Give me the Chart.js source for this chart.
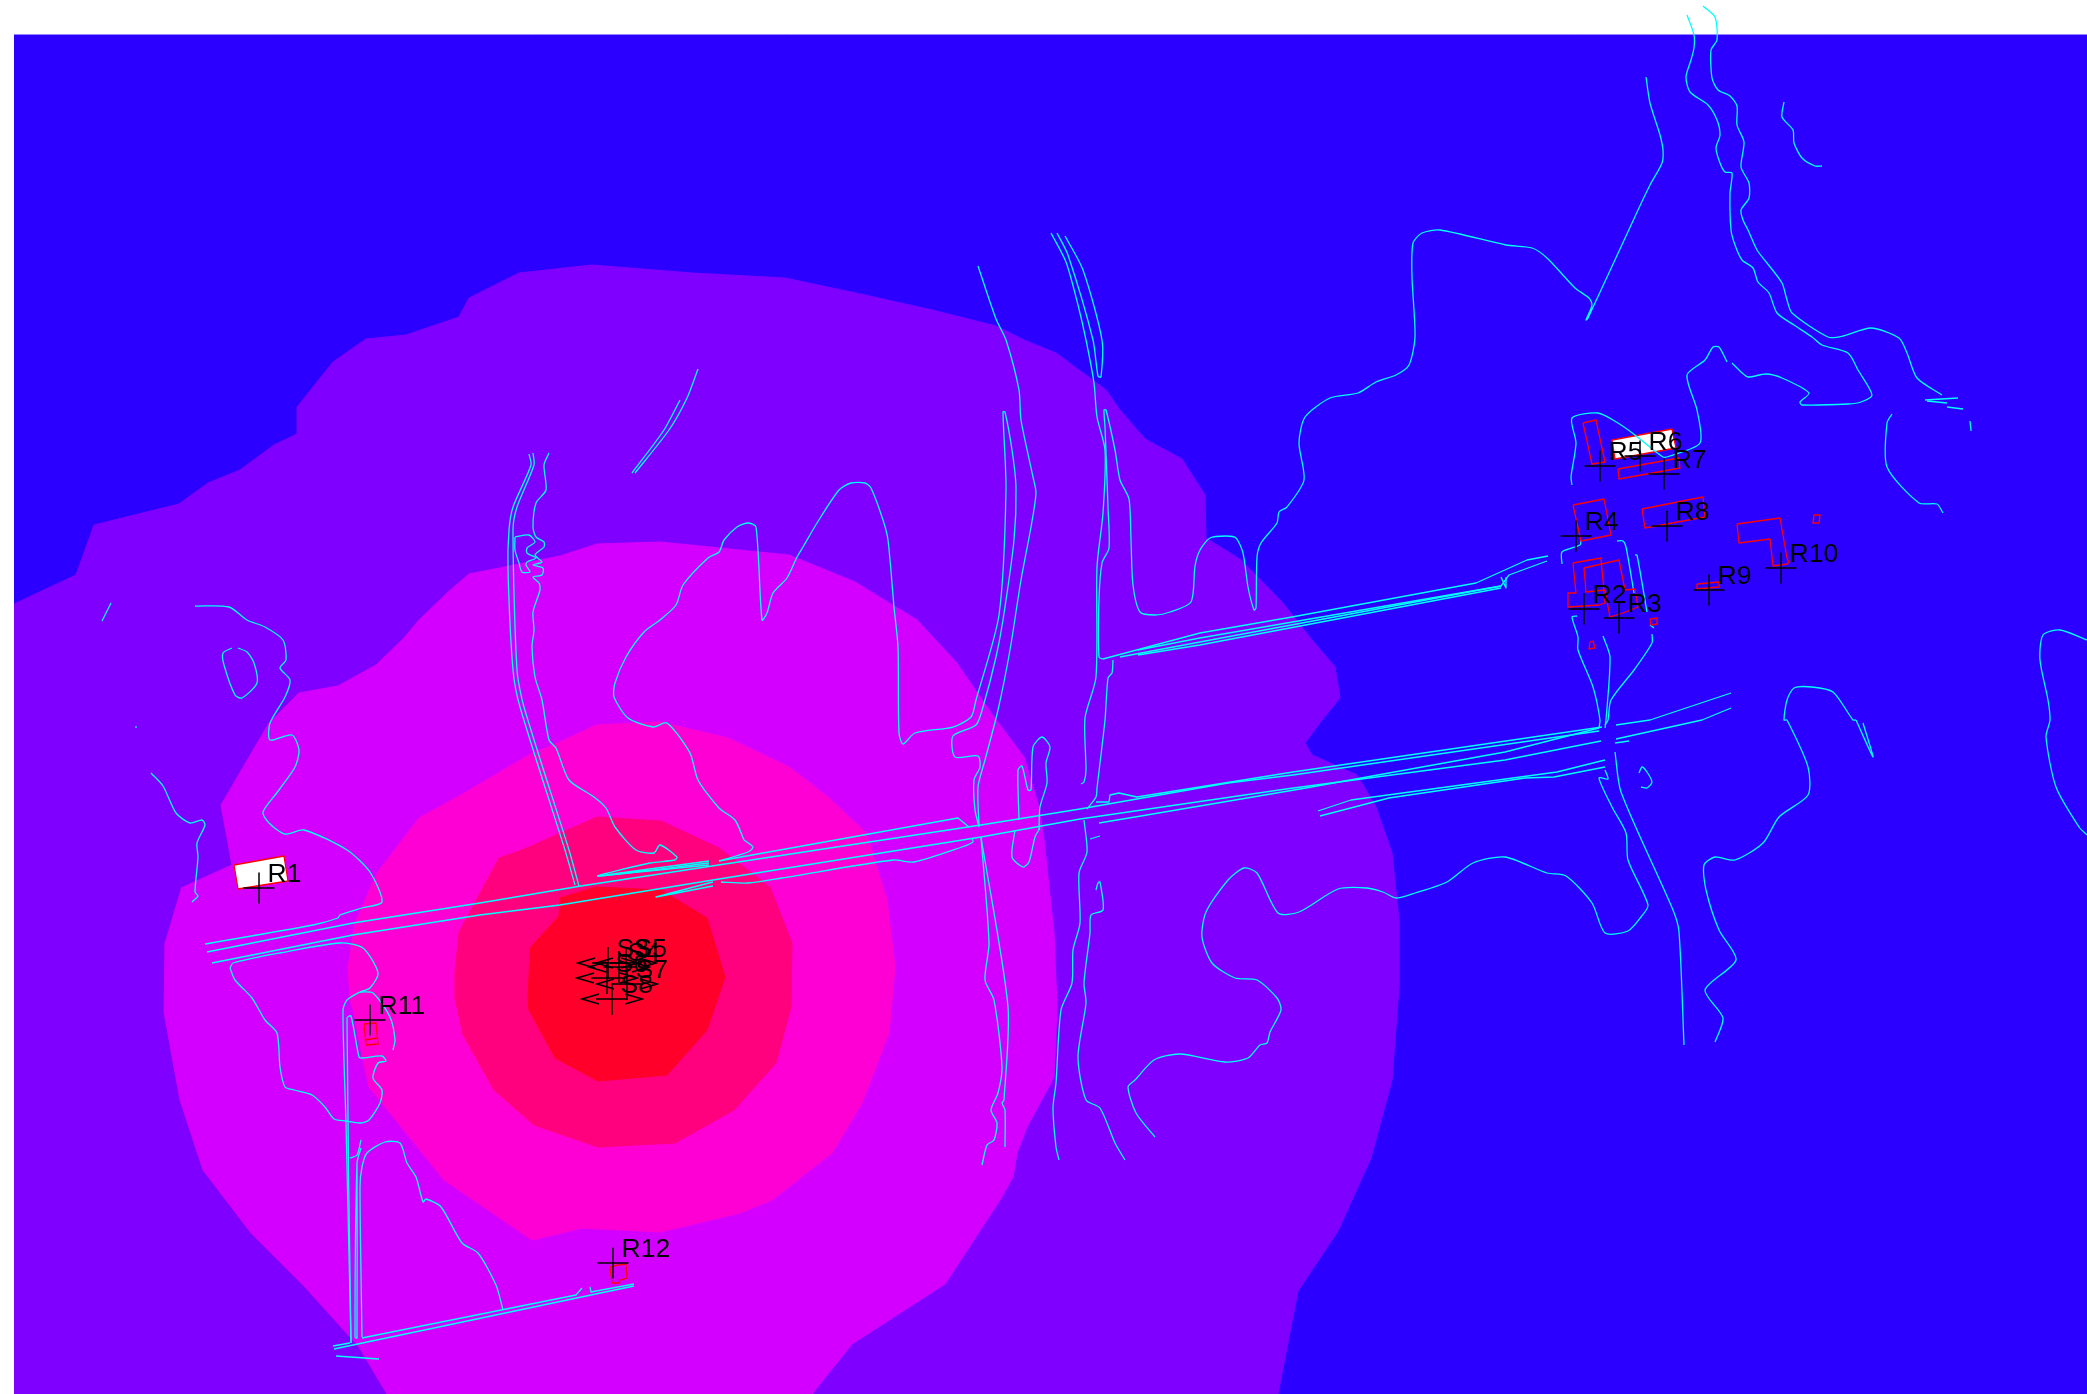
<!DOCTYPE html>
<html>
<head>
<meta charset="utf-8">
<title>contour map</title>
<script src="https://cdn.jsdelivr.net/npm/chart.js@4"></script>
<style>
  html, body { margin: 0; padding: 0; background: #fff; }
  canvas { display: block; }
</style>
</head>
<body>
<canvas id="myChart" width="2087" height="1394"></canvas>
<script>
// map units, same as the picture
const mapWidth = 2087;
const mapHeight = 1394;

const bandColors = ['#2B00FF', '#7F00FF', '#D400FF', '#FF00D4', '#FF007F', '#FF002B'];

// contour bands, lowest first
const bandBlue = [[14,35],[2087,35],[2087,1394],[14,1394]];
const bandViolet = [[14,604],[76,575],[94,525],[179,504],[208,483],[240,470],[274,445],[297,434],[297,407],[333,362],[366,339],[406,335],[459,317],[469,298],[519,273],[592,265],[692,273],[785,278],[865,295],[932,310],[996,326],[1024,340],[1056,353],[1106,390],[1120,410],[1145,439],[1182,459],[1205,495],[1206,538],[1241,560],[1282,602],[1312,640],[1335,667],[1340,698],[1322,720],[1305,743],[1312,755],[1357,775],[1376,807],[1392,853],[1399,920],[1399,987],[1392,1080],[1371,1158],[1338,1231],[1298,1291],[1278,1394],[14,1394]];
const bandPurple = [[181,888],[232,865],[221,805],[269,723],[299,693],[338,686],[376,665],[404,638],[419,620],[447,593],[469,574],[560,556],[597,544],[660,542],[789,555],[855,582],[917,620],[956,662],[994,717],[1024,757],[1039,807],[1044,840],[1054,933],[1057,1007],[1054,1077],[1027,1127],[1017,1153],[1013,1177],[1000,1200],[945,1284],[852,1344],[812,1394],[387,1394],[359,1347],[305,1287],[251,1233],[203,1170],[180,1100],[164,1012],[165,942]];
const bandMagenta = [[350,1000],[348,967],[355,923],[377,873],[419,818],[461,795],[529,755],[560,742],[596,725],[660,722],[728,738],[789,767],[828,797],[866,833],[887,900],[895,967],[889,1033],[862,1103],[832,1153],[772,1200],[740,1213],[660,1232],[582,1228],[532,1240],[444,1180],[369,1087],[355,1020]];
const bandPink = [[455,1000],[455,972],[459,932],[499,858],[522,850],[597,817],[661,821],[719,848],[770,887],[792,943],[791,1007],[776,1063],[734,1110],[675,1143],[598,1147],[534,1125],[494,1090],[462,1033]];
const bandRed = [[528,1000],[530,948],[559,916],[560,898],[596,887],[661,890],[707,918],[725,977],[707,1030],[667,1075],[598,1081],[555,1058],[528,1008]];

// cyan streams
const streamA = [[1687,15],[1694,35],[1694,48],[1691,60],[1686,77],[1690,92],[1708,105],[1717,120],[1720,135],[1716,148],[1720,163],[1725,172],[1732,173],[1730,193],[1731,230],[1735,245],[1742,260],[1753,268],[1758,282],[1769,293],[1777,313],[1794,325],[1812,337],[1822,345],[1848,353],[1858,370],[1872,395],[1861,402],[1848,404],[1802,405],[1800,402],[1809,393],[1782,378],[1766,374],[1748,377],[1741,372],[1732,363]];
const streamB = [[1703,6],[1715,17],[1717,40],[1711,50],[1712,78],[1718,90],[1730,96],[1737,106],[1737,125],[1744,142],[1741,167],[1749,183],[1749,198],[1741,210],[1743,220],[1748,230],[1757,250],[1767,263],[1782,283],[1787,300],[1792,313],[1828,337],[1843,336],[1871,328],[1899,338],[1907,353],[1917,378],[1942,395]];
const streamArc = [[1784,102],[1782,117],[1793,130],[1794,143],[1802,158],[1815,166],[1822,166]];
const streamEastA = [[1892,414],[1887,423],[1887,467],[1919,503],[1937,504],[1943,513]];
const streamC = [[1646,77],[1650,103],[1660,135],[1663,150],[1662,163],[1650,185],[1638,210],[1588,318],[1586,320],[1592,305],[1589,298],[1575,288],[1547,258],[1532,248],[1506,245],[1440,230],[1422,233],[1413,243],[1412,277],[1415,337],[1409,365],[1396,375],[1376,382],[1358,393],[1330,398],[1305,417],[1299,443],[1304,480],[1287,507],[1279,512],[1277,523],[1261,543],[1257,557],[1256,608],[1254,610],[1248,587],[1243,553],[1236,538],[1226,536],[1210,538],[1200,550],[1195,566],[1191,602],[1170,612],[1155,615],[1140,612],[1133,585],[1131,540],[1129,499],[1120,480],[1115,450],[1106,410],[1104,410],[1105,427],[1108,507],[1109,548],[1102,563],[1099,600],[1099,657],[1103,659]];
const streamHairpin = [[1057,233],[1068,255],[1093,340],[1098,376],[1101,377],[1102,340],[1083,270],[1065,236]];
const streamD = [[1051,233],[1066,262],[1078,305],[1086,340],[1094,383],[1097,417],[1105,450],[1103,513],[1097,567],[1096,677],[1085,718],[1086,770],[1084,782],[1081,784]];
const streamE = [[1113,660],[1112,673],[1108,678],[1105,720],[1097,788],[1096,797],[1087,809]];
const streamM = [[744,840],[735,820],[719,808],[698,780],[690,753],[667,723],[653,727],[628,718],[614,697],[615,683],[626,657],[644,632],[660,620],[676,605],[683,585],[708,558],[719,552],[724,540],[737,527],[748,523],[756,527],[762,620],[767,613],[773,593],[787,578],[797,557],[803,547],[817,523],[839,490],[851,483],[865,483],[871,488],[883,520],[888,540],[894,607],[898,647],[899,733],[903,744],[915,733],[953,727],[971,717],[976,700],[999,615],[1006,490],[1003,412],[1005,412],[1012,450],[1016,487],[1014,540],[1003,620],[996,657],[983,707],[976,725],[953,736],[955,757],[978,756],[980,767],[974,780],[975,810],[979,827]];
const streamMTail = [[744,840],[753,847],[748,852],[719,861]];
const streamL = [[978,266],[996,319],[1006,340],[1019,390],[1021,420],[1033,477],[1036,493],[1031,527],[1021,580],[1010,650],[998,710],[985,760],[978,787],[979,825]];
const streamLoop = [[1019,820],[1018,770],[1022,766],[1028,790],[1031,790],[1033,747],[1042,737],[1050,747],[1046,763],[1047,783],[1040,807],[1039,830]];
const streamLoopLow = [[1015,830],[1012,857],[1023,867],[1029,862],[1035,837],[1040,828]];
const streamN1 = [[529,454],[531,465],[513,507],[509,530],[508,570],[513,670],[520,707],[565,850],[575,885]];
const streamN2 = [[533,453],[534,465],[517,507],[513,530],[517,670],[524,707],[569,850],[579,886]];
const streamN3 = [[549,453],[544,465],[546,490],[536,503],[533,527],[536,537],[544,542],[544,547],[535,555],[542,562],[533,565],[543,568],[542,575],[533,577],[539,583],[540,590],[533,612],[534,630],[532,647],[535,677],[542,700],[549,740],[556,748],[569,780],[594,797],[606,808],[615,827],[636,850],[654,853],[660,845],[677,857],[675,860],[650,863],[598,876],[709,863]];
const streamSquiggle = [[515,537],[529,535],[535,542],[527,548],[527,553],[536,558],[527,562],[526,565],[530,572],[522,572],[519,563],[515,550],[515,537]];
const streamP1 = [[698,369],[687,398],[669,430],[635,473]];
const streamP2 = [[680,400],[664,430],[632,473]];
const streamWest = [[195,606],[229,607],[247,620],[265,627],[283,640],[286,660],[280,668],[290,680],[285,697],[270,723],[270,740],[292,735],[299,750],[295,767],[279,790],[263,812],[269,823],[285,834],[304,830],[347,850],[370,872],[382,902],[362,908],[340,915],[338,918],[313,925],[205,944]];
const streamRing = [[232,648],[223,653],[224,665],[235,695],[242,698],[257,683],[254,663],[247,652],[238,648]];
const streamDash = [[111,603],[102,621]];
const streamDot = [[136,726],[136,728]];
const streamFarWest = [[151,773],[163,786],[176,813],[190,823],[202,820],[205,825],[197,843],[198,857],[195,892],[198,896],[192,902]];
const streamSouthWest = [[230,968],[233,963],[280,953],[340,943],[363,948],[378,973],[370,988],[360,992],[347,1000],[343,1010],[346,1123]];
const streamSouthWest2 = [[230,968],[235,980],[252,998],[265,1020],[277,1033],[280,1067],[285,1087],[294,1090],[312,1095],[325,1107],[334,1119],[346,1121],[360,1123],[369,1120],[380,1103],[382,1090],[373,1078],[378,1063],[386,1061],[382,1056],[362,1058],[359,1057],[351,1016],[347,1018],[351,1343]];
const streamR11 = [[360,992],[373,993],[390,1017],[395,1040],[393,1050]];
const streamV3 = [[362,1337],[360,1187],[362,1167],[367,1153],[385,1142],[400,1143],[407,1163],[416,1177],[423,1202],[426,1199],[441,1207],[462,1243],[478,1253],[496,1285],[503,1310]];
const streamV2 = [[350,1158],[357,1155],[361,1140]];
const streamV2b = [[361,1148],[357,1163],[355,1337],[357,1338],[357,1163]];
const streamV1 = [[346,1123],[351,1343]];
const streamCentre1 = [[721,882],[748,883],[782,878],[893,860],[914,862],[962,847],[973,842],[972,838]];
const streamS1 = [[981,837],[989,943],[985,980],[994,1000],[1002,1067],[998,1093],[991,1110],[997,1123],[994,1140],[987,1145],[982,1165]];
const streamS2 = [[981,837],[1008,1007],[1004,1100],[1002,1103],[1005,1110],[1005,1147]];
const streamT1 = [[1084,820],[1087,852],[1079,873],[1080,923],[1073,950],[1072,983],[1061,1010],[1056,1083],[1053,1108],[1056,1147],[1059,1160]];
const streamT2 = [[1096,890],[1098,883],[1100,882],[1103,910],[1091,915],[1090,933],[1084,983],[1086,1003],[1078,1057],[1086,1100],[1100,1108],[1115,1143],[1125,1160]];
const streamTick = [[1090,839],[1100,836]];
const streamW1 = [[1155,1137],[1136,1113],[1128,1087],[1135,1080],[1154,1060],[1180,1054],[1225,1062],[1248,1058],[1260,1045],[1267,1043],[1270,1032],[1281,1010],[1277,998],[1257,980],[1235,978],[1212,963],[1202,937],[1206,912],[1228,880],[1244,868],[1257,873],[1278,913],[1299,912],[1338,889],[1367,888],[1383,892],[1396,898],[1415,893],[1447,882],[1473,863],[1505,857],[1547,873],[1566,876],[1592,903],[1605,933],[1628,931],[1641,917],[1648,905],[1628,860],[1626,833],[1612,807],[1599,778],[1608,779],[1605,770]];
const streamX = [[1615,752],[1621,792],[1673,910],[1679,932],[1684,1045]];
const streamY = [[1856,720],[1853,720],[1833,692],[1812,687],[1794,688],[1787,700],[1784,720],[1787,720],[1808,767],[1808,795],[1779,817],[1763,843],[1735,860],[1715,857],[1704,865],[1706,890],[1719,930],[1736,960],[1705,990],[1723,1018],[1715,1042]];
const streamY2 = [[1856,720],[1873,757],[1863,723]];
const streamEdge = [[2087,640],[2060,630],[2043,635],[2040,660],[2048,700],[2050,720],[2046,737],[2056,787],[2079,827],[2087,835]];
const streamHook = [[1639,773],[1642,767],[1647,772],[1652,782],[1647,788],[1641,787]];
const streamYards = [[1572,485],[1571,477],[1576,443],[1572,418],[1598,413],[1618,423],[1635,435],[1663,457],[1670,456],[1700,443],[1697,410],[1687,375],[1705,360],[1713,347],[1719,347],[1727,362]];
const streamYard2 = [[1617,541],[1623,541],[1626,547],[1634,593]];
const streamYard3 = [[1635,555],[1637,555],[1647,612]];
const streamYard4 = [[1562,564],[1562,552],[1580,545],[1581,540]];
const streamYard5 = [[1577,616],[1572,617],[1578,637],[1578,650],[1593,687],[1600,720],[1599,728]];
const streamYard6 = [[1603,636],[1610,657],[1606,720],[1605,728]];
const streamYard7 = [[1652,634],[1652,643],[1634,670],[1611,700],[1608,720],[1605,725]];
const streamYard8 = [[1650,625],[1654,628]];
const streamFlecks = [[1925,400],[1958,398]];
const streamFlecks2 = [[1927,401],[1947,403]];
const streamFlecks3 = [[1947,407],[1963,409]];
const streamFlecks4 = [[1970,421],[1971,431]];

// cyan roads
const roadNorth = [[207,952],[353,923],[480,903],[581,886],[981,825],[1080,809],[1228,783],[1293,775],[1599,731]];
const roadSouth = [[212,963],[353,935],[480,915],[560,905],[713,880],[981,837],[1080,819],[1286,789],[1505,760],[1601,741]];
const roadTop = [[1096,802],[1109,802],[1110,795],[1119,793],[1137,797],[1293,772],[1602,727]];
const roadFrontA = [[709,861],[598,876],[709,865]];
const roadFrontB = [[719,861],[958,818],[969,827]];
const roadFrontC = [[713,882],[656,897],[713,886]];
const roadFrontD = [[1099,823],[1141,816],[1306,788],[1505,752],[1599,728]];
const roadFrontE = [[1318,811],[1351,800],[1557,772],[1605,760]];
const roadFrontF = [[1320,816],[1389,798],[1525,778],[1554,777],[1605,767]];
const roadEastA = [[1616,725],[1650,720],[1731,693]];
const roadEastB = [[1616,739],[1702,720],[1731,708]];
const roadEastC = [[1615,743],[1629,741]];
const roadUpper1 = [[1103,659],[1200,633],[1292,617],[1476,583],[1527,560],[1548,556]];
const roadUpper2 = [[1138,650],[1200,638],[1501,586]];
const roadUpper3 = [[1138,655],[1200,645],[1501,588]];
const roadUpper4 = [[1120,657],[1200,642],[1501,586],[1509,575],[1547,561]];
const roadSpike = [[1501,577],[1506,588],[1506,577]];
const roadLowN = [[362,1338],[576,1295],[582,1288]];
const roadLowN2 = [[590,1287],[591,1292],[634,1284]];
const roadLowS = [[334,1349],[634,1286]];
const roadLowStub = [[333,1346],[350,1343]];
const roadLowStub2 = [[336,1356],[379,1359]];

// red building outlines, the white ones are the two filled plots
const plotR1 = [[234,865],[284,856],[288,881],[238,889]];
const plotR6 = [[1612,440],[1672,429],[1676,448],[1615,459]];
const plotR5 = [[1583,423],[1596,420],[1605,462],[1592,464]];
const plotR7 = [[1618,469],[1679,458],[1680,468],[1619,479]];
const plotR4 = [[1573,505],[1604,499],[1611,535],[1581,541]];
const plotR8 = [[1642,509],[1703,497],[1705,517],[1645,528]];
const plotR10 = [[1737,524],[1780,518],[1787,558],[1789,562],[1787,564],[1773,566],[1770,539],[1739,543]];
const plotSmallA = [[1814,515],[1820,515],[1819,523],[1813,523]];
const plotR9 = [[1697,584],[1719,582],[1719,587],[1697,589]];
const plotR2 = [[1573,563],[1601,558],[1605,603],[1599,605],[1568,607],[1568,593],[1576,593]];
const plotR3 = [[1584,568],[1619,560],[1625,590],[1635,589],[1638,607],[1623,613],[1610,617],[1605,590],[1586,592]];
const plotSmallB = [[1650,619],[1657,618],[1657,624],[1651,625]];
const plotSmallC = [[1590,642],[1593,641],[1595,648],[1589,649]];
const plotR11 = [[364,1024],[376,1023],[378,1044],[366,1045]];
const plotR11b = [[365,1040],[377,1038]];
const plotR12 = [[610,1267],[618,1265],[626,1264],[627,1278],[620,1280],[619,1283],[612,1283]];

// receptors
const receptorNames = ['R1','R2','R3','R4','R5','R6','R7','R8','R9','R10','R11','R12'];
const receptorX = [259,1584,1619,1576,1600,1640,1664,1667,1709,1781,370,613];
const receptorY = [888,609,618,536,466,456,474,526,590,568,1020,1263];

// sources
const sourceNames = ['S3','S5','S4','S6','S7','S8'];
const sourceX = [608,626,619,607,627,612];
const sourceY = [963,963,967,978,984,999];

const pts = (a) => a.map(([x, y]) => ({ x: x, y: y }));

function band(points, color) {
    return { data: pts(points), showLine: true, fill: 'shape', backgroundColor: color, borderColor: color, borderWidth: 1, pointRadius: 0 };
}
function cyan(points, tension) {
    return { data: pts(points), showLine: true, fill: false, borderColor: '#00FFFF', borderWidth: 1.3, pointRadius: 0, tension: tension };
}
function plot(points, white) {
    return { data: pts(points.concat([points[0]])), showLine: true, fill: white ? 'shape' : false, backgroundColor: '#FFFFFF', borderColor: '#FF0000', borderWidth: 1.3, pointRadius: 0 };
}

// source marker: a cross with an arrow head on each side
function sourceMark() {
    const c = document.createElement('canvas');
    c.width = 64; c.height = 34;
    const g = c.getContext('2d');
    g.strokeStyle = '#000'; g.lineWidth = 1.5;
    g.beginPath();
    g.moveTo(16, 17); g.lineTo(48, 17);
    g.moveTo(32, 1); g.lineTo(32, 33);
    g.moveTo(19, 12); g.lineTo(2, 17); g.lineTo(19, 22);
    g.moveTo(45, 12); g.lineTo(62, 17); g.lineTo(45, 22);
    g.stroke();
    return c;
}

const bands = [bandBlue, bandViolet, bandPurple, bandMagenta, bandPink, bandRed];
const streams = [streamA, streamB, streamArc, streamEastA, streamC, streamHairpin, streamD, streamE, streamM, streamMTail, streamL, streamLoop, streamLoopLow, streamN1, streamN2, streamN3, streamSquiggle, streamP1, streamP2, streamWest, streamRing, streamDash, streamDot, streamFarWest, streamSouthWest, streamSouthWest2, streamR11, streamV3, streamV2, streamV2b, streamV1, streamCentre1, streamS1, streamS2, streamT1, streamT2, streamTick, streamW1, streamX, streamY, streamY2, streamEdge, streamHook, streamYards, streamYard2, streamYard3, streamYard4, streamYard5, streamYard6, streamYard7, streamYard8, streamFlecks, streamFlecks2, streamFlecks3, streamFlecks4];
const roads = [roadNorth, roadSouth, roadTop, roadFrontA, roadFrontB, roadFrontC, roadFrontD, roadFrontE, roadFrontF, roadEastA, roadEastB, roadEastC, roadUpper1, roadUpper2, roadUpper3, roadUpper4, roadSpike, roadLowN, roadLowN2, roadLowS, roadLowStub, roadLowStub2];
const plots = [plotR5, plotR7, plotR4, plotR8, plotR10, plotSmallA, plotR9, plotR2, plotR3, plotSmallB, plotSmallC, plotR11, plotR12];

// bottom first, reversed at the end because chart.js paints dataset 0 last
let datasets = [];
bands.forEach((b, i) => datasets.push(band(b, bandColors[i])));
datasets.push(plot(plotR1, true));
datasets.push(plot(plotR6, true));
streams.forEach(s => datasets.push(cyan(s, 0.25)));
roads.forEach(r => datasets.push(cyan(r, 0)));
plots.forEach(p => datasets.push(plot(p, false)));
datasets.push({ data: pts(plotR11b), showLine: true, fill: false, borderColor: '#FF0000', borderWidth: 1.3, pointRadius: 0 });
datasets.push({
    data: receptorX.map((x, i) => ({ x: x, y: receptorY[i] })),
    showLine: false, pointStyle: 'cross', pointRadius: 15.5, borderColor: '#000', pointBorderColor: '#000', pointBorderWidth: 1.5
});
datasets.push({
    data: sourceX.map((x, i) => ({ x: x, y: sourceY[i] })),
    showLine: false, pointStyle: sourceMark(), pointRadius: 16
});

// R1, S3... labels sit up and right of their cross
const markLabels = {
    id: 'markLabels',
    afterDatasetsDraw(chart) {
        const ctx = chart.ctx, xs = chart.scales.x, ys = chart.scales.y;
        ctx.save();
        ctx.fillStyle = '#000';
        ctx.font = '26.5px "Liberation Sans", Arial, sans-serif';
        ctx.textBaseline = 'alphabetic';
        receptorNames.forEach((n, i) => ctx.fillText(n, xs.getPixelForValue(receptorX[i]) + 8.5, ys.getPixelForValue(receptorY[i]) - 6.5));
        sourceNames.forEach((n, i) => ctx.fillText(n, xs.getPixelForValue(sourceX[i]) + 8.5, ys.getPixelForValue(sourceY[i]) - 6.5));
        ctx.restore();
    }
};

const ctx = document.getElementById('myChart').getContext('2d');
const myChart = new Chart(ctx, {
    type: 'scatter',
    data: { datasets: datasets.reverse() },
    options: {
        responsive: false,
        animation: false,
        layout: { padding: 0, autoPadding: false },
        plugins: { legend: { display: false }, tooltip: { enabled: false } },
        elements: { line: { borderJoinStyle: 'round' } },
        scales: {
            x: { type: 'linear', display: false, min: 0, max: mapWidth },
            y: { type: 'linear', display: false, min: 0, max: mapHeight, reverse: true }
        }
    },
    plugins: [markLabels]
});
</script>
</body>
</html>
